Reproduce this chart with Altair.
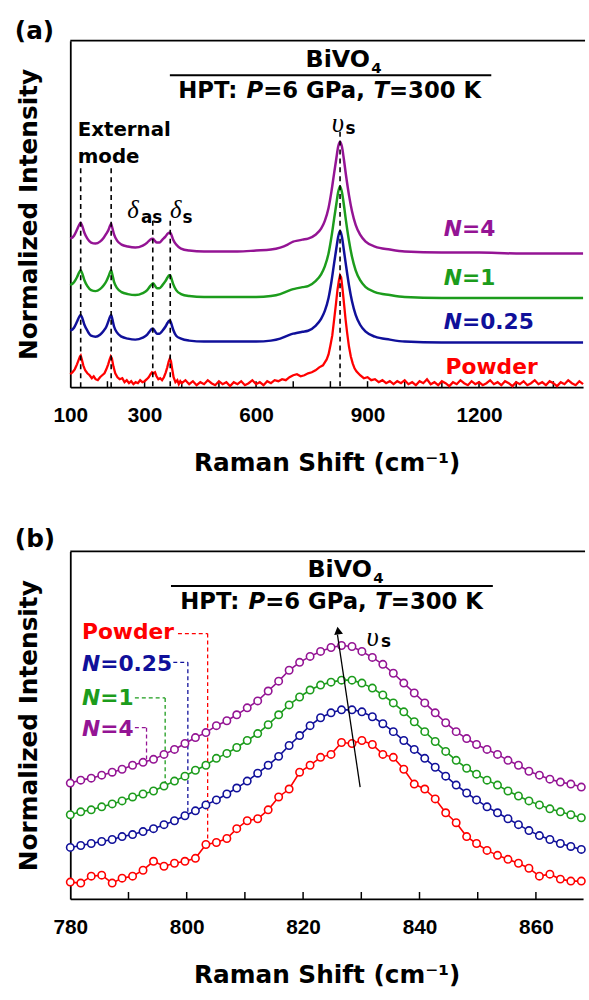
import altair as alt
import pandas as pd

# ---------------- panel (a): full Raman spectra (normalized intensity, offset) ----------------
a_shift = [100, 110, 118, 124, 128, 132, 138, 146, 156, 168,
           180, 190, 197, 203, 207, 210, 213, 218, 226, 238,
           255, 275, 295, 307, 315, 320, 323, 327, 333, 340,
           348, 356, 362, 366, 369, 372, 377, 385, 398, 420,
           460, 500, 550, 600, 640, 665, 685, 700, 712, 725,
           740, 760, 775, 785, 795, 803, 810, 816, 821, 826,
           831, 836, 842, 850, 858, 868, 880, 895, 920, 960,
           1000, 1100, 1200, 1300, 1400, 1480]
a_n4 = [150, 153, 159, 164, 166, 163, 156, 150, 146, 145,
        147, 151, 155, 159, 163, 165, 161, 154, 148, 144,
        142, 141, 143, 146, 149, 150, 150, 148, 146, 146,
        149, 152, 155, 156, 156, 154, 149, 144, 140, 138,
        137, 137, 137, 138, 139, 141, 144, 147, 148, 149,
        150, 154, 160, 168, 181, 198, 216, 231, 243, 248,
        243, 231, 214, 194, 178, 164, 154, 147, 142, 139,
        137, 136, 136, 135, 135, 135]
a_n1 = [103, 106, 111, 116, 118, 115, 108, 102, 98, 97,
        99, 103, 107, 112, 116, 118, 114, 106, 100, 96,
        94, 93, 95, 98, 102, 104, 105, 103, 100, 100,
        103, 107, 111, 113, 113, 110, 104, 98, 94, 92,
        91, 91, 91, 91, 92, 94, 97, 99, 100, 101,
        102, 107, 114, 122, 135, 152, 170, 185, 197, 203,
        197, 185, 168, 148, 132, 118, 108, 101, 96, 93,
        91, 90, 90, 90, 90, 90]
a_n025 = [57, 60, 66, 71, 73, 70, 63, 57, 52, 51,
          53, 57, 61, 67, 71, 73, 69, 61, 55, 51,
          49, 48, 50, 53, 57, 59, 59, 57, 54, 54,
          57, 61, 65, 67, 67, 64, 58, 52, 49, 47,
          46, 46, 46, 46, 47, 49, 52, 54, 55, 56,
          57, 62, 69, 77, 90, 107, 125, 140, 152, 158,
          152, 139, 123, 103, 87, 73, 63, 56, 51, 48,
          46, 45, 45, 45, 45, 45]
a_powder = [
    (100, 13), (106, 15), (112, 18), (118, 23), (122, 27), (126, 31), (128, 32), (131, 28), (135, 22), (140, 17),
    (146, 14), (152, 12), (158, 9), (163, 11), (168, 8), (174, 7), (180, 10), (186, 12), (192, 14), (197, 18),
    (202, 23), (206, 28), (209, 31), (212, 29), (216, 21), (221, 14), (227, 10), (233, 8), (240, 9), (246, 5),
    (252, 7), (258, 4), (264, 6), (270, 3), (276, 5), (282, 4), (288, 7), (294, 5), (300, 6), (306, 8),
    (311, 10), (316, 13), (320, 15), (324, 14), (328, 15), (332, 11), (337, 8), (342, 9), (347, 7), (352, 10),
    (357, 15), (361, 20), (365, 26), (368, 29), (371, 26), (374, 19), (378, 10), (383, 5), (388, 7), (392, 3),
    (396, 6), (400, 4), (410, 7), (420, 3), (430, 6), (440, 2), (450, 5), (460, 3), (470, 7), (480, 4),
    (490, 2), (500, 6), (510, 3), (520, 5), (530, 1), (540, 5), (550, 3), (560, 6), (570, 2), (580, 4),
    (590, 7), (600, 3), (610, 5), (620, 2), (630, 6), (640, 4), (650, 7), (660, 6), (670, 8), (680, 7),
    (690, 10), (700, 12), (710, 13), (720, 11), (730, 12), (740, 14), (750, 15), (760, 17), (770, 20), (780, 22),
    (790, 28), (795, 33), (800, 42), (805, 52), (810, 68), (815, 84), (819, 98), (823, 108), (826, 113), (829, 111),
    (833, 98), (837, 83), (841, 68), (845, 55), (850, 41), (855, 31), (860, 24), (865, 19), (870, 16), (880, 12),
    (890, 9), (900, 10), (910, 7), (920, 8), (930, 5), (940, 7), (950, 4), (960, 6), (970, 3), (980, 6),
    (990, 4), (1000, 7), (1010, 3), (1020, 5), (1030, 2), (1040, 6), (1050, 4), (1060, 8), (1070, 3), (1080, 5),
    (1090, 2), (1100, 6), (1110, 4), (1120, 1), (1130, 5), (1140, 3), (1150, 7), (1160, 4), (1170, 2), (1180, 6),
    (1190, 3), (1200, 5), (1210, 2), (1220, 4), (1230, 7), (1240, 3), (1250, 5), (1260, 2), (1270, 6), (1280, 4),
    (1290, 1), (1300, 5), (1310, 3), (1320, 6), (1330, 2), (1340, 4), (1350, 7), (1360, 3), (1370, 5), (1380, 2),
    (1390, 6), (1400, 4), (1410, 1), (1420, 5), (1430, 3), (1440, 7), (1450, 4), (1460, 2), (1470, 6), (1480, 3),
]
a_label_ticks = [100, 300, 600, 900, 1200]
a_minor_ticks = [200, 300, 400, 500, 600, 700, 800, 900, 1000, 1100, 1200, 1300, 1400]
a_modes = [128, 210, 322, 369, 826]          # dashed guide positions
a_mode_tops = [221, 221, 168, 168, 258]

# ---------------- panel (b): zoom on the nu_s band ----------------
b_shift = [780.0, 781.8, 783.6, 785.4, 787.2, 788.9, 790.7, 792.5, 794.3, 796.1,
           797.9, 799.7, 801.5, 803.3, 805.1, 806.9, 808.6, 810.4, 812.2, 814.0,
           815.8, 817.6, 819.4, 821.2, 823.0, 824.8, 826.6, 828.4, 830.1, 831.9,
           833.7, 835.5, 837.3, 839.1, 840.9, 842.7, 844.5, 846.3, 848.1, 849.8,
           851.6, 853.4, 855.2, 857.0, 858.8, 860.6, 862.4, 864.2, 866.0, 867.8]
b_powder = [17, 16, 23, 24, 16, 21, 23, 29, 38, 33,
            36, 38, 41, 55, 57, 61, 71, 79, 81, 90,
            103, 111, 128, 135, 143, 146, 158, 157, 160, 156,
            146, 143, 131, 116, 111, 101, 87, 77, 63, 56,
            49, 44, 40, 36, 31, 23, 25, 20, 18, 18]
b_n025 = [52, 54, 56, 58, 60, 63, 65, 68, 71, 75,
          79, 84, 89, 95, 100, 106, 112, 119, 127, 135,
          144, 155, 165, 175, 183, 188, 191, 191, 189, 184,
          177, 169, 160, 151, 142, 133, 124, 115, 107, 100,
          93, 87, 81, 75, 69, 64, 60, 56, 53, 50]
b_n1 = [85, 88, 90, 93, 96, 99, 103, 106, 109, 114,
        119, 124, 130, 135, 142, 147, 153, 160, 167, 176,
        186, 196, 204, 211, 216, 219, 221, 221, 218, 213,
        206, 198, 189, 179, 169, 159, 149, 140, 132, 126,
        120, 115, 109, 104, 99, 95, 91, 88, 85, 82]
b_n4 = [117, 120, 122, 125, 128, 131, 135, 138, 141, 146,
        151, 157, 163, 168, 175, 180, 186, 193, 200, 210,
        220, 231, 239, 245, 250, 254, 256, 255, 250, 244,
        237, 228, 218, 208, 198, 188, 178, 169, 162, 156,
        151, 146, 140, 135, 129, 125, 121, 118, 116, 113]
b_label_ticks = [780, 800, 820, 840, 860]
b_minor_ticks = [790, 800, 810, 820, 830, 840, 850, 860]
# label connectors: series, label-end x, vertical x, top y, curve y
b_connectors = [("Powder", 798.5, 803.6, 268, 59),
                ("N=0.25", 797.7, 800.2, 239, 88),
                ("N=1", 791.1, 796.3, 203, 115),
                ("N=4", 791.1, 793.1, 173, 140)]
b_arrow = [(829.8, 113), (825.9, 267)]

COLORS = {"N=4": "#941494", "N=1": "#1c9c1c", "N=0.25": "#10109a", "Powder": "#ff0000"}

# ---------------- layout / style ----------------
W, HA, HB = 518, 350, 351
A_DOM = [100, 1480]
B_DOM = [780, 868.1]
SANS = "DejaVu Sans"
SERIF = "Liberation Serif"
TICKF = "Liberation Sans"
PPA = W / (A_DOM[1] - A_DOM[0])
PPB = W / (B_DOM[1] - B_DOM[0])

WB = {' ': 0.348, 'H': 0.837, 'P': 0.733, 'T': 0.682, ':': 0.400, '=': 0.838, 'G': 0.821,
      'a': 0.675, ',': 0.380, 'K': 0.775, '.': 0.380, 'N': 0.837, 'B': 0.762, 'i': 0.343,
      'V': 0.774, 'O': 0.850}
for d in "0123456789":
    WB[d] = 0.696


def tw(s, fs):
    return sum(WB.get(ch, 0.6) for ch in s) * fs


def row(x, y, text, color="black", font=SANS, size=22, style="normal", weight="bold"):
    return dict(x=float(x), y=float(y), text=text, c=color, font=font, size=int(size),
                style=style, weight=weight)


def seg_line(center, y, segs, fs, ppu):
    total = sum(tw(t, fs) for t, _ in segs)
    pos = center - total / 2 / ppu
    out = []
    for t, it in segs:
        out.append(row(pos, y, t.strip(), size=fs, style="italic" if it else "normal"))
        pos += tw(t, fs) / ppu
    return out


def bivo(center, y, ppu):
    w1 = tw("BiVO", 24)
    w2 = tw("4", 15)
    left = center - (w1 + 1 + w2) / 2 / ppu
    return [row(left, y, "BiVO", size=24), row(left + (w1 + 1) / ppu, y - 6, "4", size=15)]


def xaxis(values):
    return alt.Axis(values=values, format="d", ticks=False, grid=False, domain=True,
                    domainColor="black", domainWidth=1.8, labelFont=TICKF, labelFontSize=21,
                    labelFontWeight="bold", labelColor="black", labelPadding=18,
                    labelFlush=False, labelOverlap=False, title="Raman Shift (cm\u207b\u00b9)",
                    titleFont=SANS, titleFontSize=25, titleFontWeight="bold", titleColor="black",
                    titlePadding=25)


def yaxis():
    return alt.Axis(labels=False, ticks=False, grid=False, domain=True, domainColor="black",
                    domainWidth=1.8, title="Normalized Intensity", titleFont=SANS,
                    titleFontSize=25, titleFontWeight="bold", titleColor="black", titlePadding=29)


def text_layers(rows, X, Y):
    df = pd.DataFrame(rows)
    layers = []
    for key, g in df.groupby(["font", "size", "style", "weight"]):
        font, size, style, weight = key
        layers.append(
            alt.Chart(g.reset_index(drop=True)).mark_text(
                align="left", baseline="alphabetic", font=str(font), fontSize=int(size),
                fontStyle=str(style), fontWeight=str(weight)
            ).encode(x=X, y=Y, text="text:N", color=alt.Color("c:N", scale=None))
        )
    return layers


def frame_layers(H, ticks, X, tick_len):
    top = alt.Chart(pd.DataFrame({"k": [0]})).mark_rule(color="black", strokeWidth=1.8).encode(
        x=alt.value(0), x2=alt.value(W + 2), y=alt.value(0))
    tk = alt.Chart(pd.DataFrame({"x": ticks})).mark_rule(color="black", strokeWidth=1.5).encode(
        x=X, y=alt.value(H), y2=alt.value(H - tick_len))
    return [top, tk]


def panel_label(text, dy):
    return alt.Chart(pd.DataFrame({"t": [text]})).mark_text(
        align="left", baseline="top", font=SANS, fontSize=25, fontWeight="bold", color="black"
    ).encode(x=alt.value(-56), y=alt.value(dy), text="t:N")


# ---------------- panel (a) ----------------
XA = alt.X("x:Q", scale=alt.Scale(domain=A_DOM, nice=False, zero=False), axis=xaxis(a_label_ticks))
YA = alt.Y("y:Q", scale=alt.Scale(domain=[0, HA], nice=False, zero=False), axis=yaxis())

layers_a = frame_layers(HA, a_minor_ticks, XA, 6)
for name, vals in [("N=4", a_n4), ("N=1", a_n1), ("N=0.25", a_n025)]:
    df = pd.DataFrame({"x": a_shift, "y": vals})
    layers_a.append(alt.Chart(df).mark_line(color=COLORS[name], strokeWidth=2.5,
                                            interpolate="monotone").encode(x=XA, y=YA))
dfp = pd.DataFrame(a_powder, columns=["x", "y"])
layers_a.append(alt.Chart(dfp).mark_line(color=COLORS["Powder"], strokeWidth=2.3).encode(x=XA, y=YA))

guides = pd.DataFrame({"x": a_modes, "y": a_mode_tops, "y2": [0] * len(a_modes)})
layers_a.append(alt.Chart(guides).mark_rule(color="black", strokeWidth=1.6, strokeDash=[5, 4]).encode(
    x=XA, y=YA, y2="y2:Q"))
over_a = pd.DataFrame({"x": [368], "x2": [1233], "y": [315]})
layers_a.append(alt.Chart(over_a).mark_rule(color="black", strokeWidth=2).encode(x=XA, x2="x2:Q", y=YA))

rows_a = []
rows_a += bivo(835.6, 323, PPA)
rows_a += seg_line(798.3, 292, [("HPT: ", False), ("P", True), ("=6 GPa, ", False), ("T", True),
                                ("=300 K", False)], 23, PPA)
rows_a += [row(120, 254, "External", size=20), row(120, 226, "mode", size=20)]
rows_a += [row(253.5, 171, "\u03b4", font=SERIF, size=25, style="italic", weight="normal"),
           row(290, 166, "as", size=17),
           row(368.4, 171, "\u03b4", font=SERIF, size=25, style="italic", weight="normal"),
           row(402, 166, "s", size=17),
           row(803.6, 258, "\u03c5", font=SERIF, size=27, style="italic", weight="normal"),
           row(841, 256, "s", size=17)]
for name, y in [("N=4", 153), ("N=1", 103), ("N=0.25", 59)]:
    rows_a.append(row(1105, y, "N", color=COLORS[name], size=22, style="italic"))
    rows_a.append(row(1105 + tw("N", 22) / PPA, y, name[1:], color=COLORS[name], size=22))
rows_a.append(row(1110, 13, "Powder", color=COLORS["Powder"], size=22))
layers_a += text_layers(rows_a, XA, YA)
layers_a.append(panel_label("(a)", -22))

panel_a = alt.layer(*layers_a).properties(width=W, height=HA)

# ---------------- panel (b) ----------------
XB = alt.X("x:Q", scale=alt.Scale(domain=B_DOM, nice=False, zero=False), axis=xaxis(b_label_ticks))
YB = alt.Y("y:Q", scale=alt.Scale(domain=[0, HB], nice=False, zero=False), axis=yaxis())

layers_b = frame_layers(HB, b_minor_ticks, XB, 7)
conn_rows = []
for name, xe, xv, yt, yc in b_connectors:
    conn_rows.append(dict(x=xe, x2=xv, y=yt, y2=yt, c=COLORS[name]))
    conn_rows.append(dict(x=xv, x2=xv, y=yt, y2=yc, c=COLORS[name]))
layers_b.append(alt.Chart(pd.DataFrame(conn_rows)).mark_rule(strokeWidth=1.3, strokeDash=[4, 3]).encode(
    x=XB, x2="x2:Q", y=YB, y2="y2:Q", color=alt.Color("c:N", scale=None)))

for name, vals in [("N=4", b_n4), ("N=1", b_n1), ("N=0.25", b_n025), ("Powder", b_powder)]:
    df = pd.DataFrame({"x": b_shift, "y": vals})
    layers_b.append(alt.Chart(df).mark_line(color=COLORS[name], strokeWidth=1.6).encode(x=XB, y=YB))
    layers_b.append(alt.Chart(df).mark_point(shape="circle", filled=True, fill="white",
                                             stroke=COLORS[name], strokeWidth=1.6, size=56,
                                             opacity=1).encode(x=XB, y=YB))

arrow_df = pd.DataFrame(b_arrow, columns=["x", "y"])
layers_b.append(alt.Chart(arrow_df).mark_line(color="black", strokeWidth=1.3).encode(x=XB, y=YB))
layers_b.append(alt.Chart(arrow_df.iloc[[1]]).mark_point(
    shape="triangle-up", filled=True, color="black", size=80, angle=351.6, opacity=1,
    yOffset=-4, xOffset=0.6).encode(x=XB, y=YB))

over_b = pd.DataFrame({"x": [797.3], "x2": [852.6], "y": [316]})
layers_b.append(alt.Chart(over_b).mark_rule(color="black", strokeWidth=2).encode(x=XB, x2="x2:Q", y=YB))

rows_b = []
rows_b += bivo(827.3, 325, PPB)
rows_b += seg_line(824.9, 293, [("HPT: ", False), ("P", True), ("=6 GPa, ", False), ("T", True),
                                ("=300 K", False)], 23, PPB)
rows_b += [row(830.9, 256, "\u03c5", font=SERIF, size=27, style="italic", weight="normal"),
           row(833.4, 254, "s", size=17)]
rows_b.append(row(782.0, 263, "Powder", color=COLORS["Powder"], size=22))
for name, y in [("N=0.25", 230), ("N=1", 196), ("N=4", 165)]:
    rows_b.append(row(782.0, y, "N", color=COLORS[name], size=22, style="italic"))
    rows_b.append(row(782.0 + tw("N", 22) / PPB, y, name[1:], color=COLORS[name], size=22))
layers_b += text_layers(rows_b, XB, YB)
layers_b.append(panel_label("(b)", -25))

panel_b = alt.layer(*layers_b).properties(width=W, height=HB)

chart = alt.vconcat(panel_a, panel_b, spacing=166, bounds="flush").properties(
    padding={"left": 15, "top": 14, "right": 0, "bottom": 5}
).configure_view(stroke=None)

chart.save("out.html", embed_options={"renderer": "svg", "actions": False})
